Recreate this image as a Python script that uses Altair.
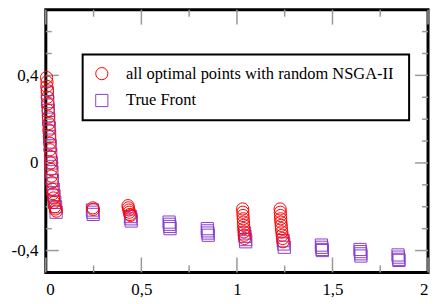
import altair as alt
import pandas as pd

S1 = "all optimal points with random  NSGA-II"
S2 = "True Front"

# red circles: all optimal points
red_x = [0.004, 0.006, 0.005, 0.008, 0.009, 0.011, 0.012, 0.014, 0.016, 0.017,
         0.019, 0.021, 0.022, 0.024, 0.026, 0.028, 0.030, 0.032, 0.034, 0.037,
         0.040, 0.043, 0.047, 0.051, 0.055,
         0.246, 0.248,
         0.430, 0.432, 0.435, 0.437, 0.440, 0.443,
         1.030, 1.031, 1.032, 1.033, 1.034, 1.035, 1.036, 1.037, 1.038, 1.040,
         1.226, 1.227, 1.228, 1.229, 1.230, 1.232, 1.233, 1.235, 1.237, 1.239, 1.241]
red_y = [0.39, 0.37, 0.35, 0.33, 0.30, 0.27, 0.24, 0.21, 0.18, 0.15,
         0.12, 0.09, 0.06, 0.03, 0.00, -0.03, -0.06, -0.09, -0.12, -0.14,
         -0.16, -0.18, -0.20, -0.21, -0.22,
         -0.205, -0.212,
         -0.195, -0.205, -0.215, -0.225, -0.235, -0.240,
         -0.210, -0.225, -0.240, -0.255, -0.270, -0.285, -0.300, -0.315, -0.330, -0.345,
         -0.210, -0.225, -0.240, -0.255, -0.270, -0.285, -0.300, -0.315, -0.330, -0.345, -0.360]

# purple squares: true front
pur_x = [0.008, 0.010, 0.013, 0.015, 0.018, 0.020, 0.023, 0.026, 0.029, 0.032,
         0.035, 0.039, 0.043, 0.047, 0.051, 0.054,
         0.244, 0.246, 0.248,
         0.443, 0.445, 0.447,
         0.645, 0.647, 0.649, 0.650,
         0.845, 0.846, 0.848, 0.850,
         1.040, 1.042, 1.045, 1.046,
         1.242, 1.245, 1.248,
         1.442, 1.444, 1.446, 1.447,
         1.644, 1.646, 1.648, 1.649,
         1.843, 1.845, 1.847, 1.848]
pur_y = [0.32, 0.28, 0.24, 0.20, 0.16, 0.12, 0.08, 0.04, 0.00, -0.04,
         -0.08, -0.12, -0.15, -0.18, -0.20, -0.225,
         -0.215, -0.225, -0.235,
         -0.245, -0.255, -0.265,
         -0.270, -0.280, -0.290, -0.300,
         -0.300, -0.310, -0.320, -0.330,
         -0.320, -0.335, -0.350, -0.360,
         -0.355, -0.370, -0.385,
         -0.375, -0.385, -0.395, -0.400,
         -0.395, -0.405, -0.415, -0.425,
         -0.420, -0.430, -0.440, -0.445]

x_major = [0, 0.5, 1, 1.5, 2]
x_minor = [0.25, 0.75, 1.25, 1.75]
y_major = [-0.4, 0, 0.4]
y_minor = [-0.3, -0.2, -0.1, 0.1, 0.2, 0.3, 0.5, 0.6]

W, H = 384, 264
FONT = "Liberation Serif"
RED = "#ff0000"
PURPLE = "#8a3fd0"
TICK = "#9a9a9a"

df = pd.DataFrame({
    "x": pur_x + red_x,
    "y": pur_y + red_y,
    "series": [S2] * len(pur_x) + [S1] * len(red_x),
})

xs = alt.Scale(domain=[0, 2], nice=False, zero=False)
ys = alt.Scale(domain=[-0.5, 0.7], nice=False, zero=False)
lbl = "replace(toString(datum.value), '.', ',')"

xaxis = alt.Axis(values=x_major, labelExpr=lbl, title=None, ticks=False, domain=False,
                 grid=False, labelPadding=9, labelFont=FONT, labelFontSize=17,
                 labelColor="black")
yaxis = alt.Axis(values=y_major, labelExpr=lbl, title=None, ticks=False, domain=False,
                 grid=False, labelPadding=8, labelFont=FONT, labelFontSize=17,
                 labelColor="black")

legend = alt.Legend(title=None, orient="none", legendX=37, legendY=45,
                    strokeColor="black", padding=11, labelFont=FONT,
                    labelFontSize=16.5, labelColor="black", symbolSize=150,
                    symbolStrokeWidth=1, rowPadding=10, labelOffset=16,
                    labelLimit=500)

points = alt.Chart(df).mark_point(filled=False, size=150, strokeWidth=1, opacity=1).encode(
    x=alt.X("x:Q", scale=xs, axis=xaxis),
    y=alt.Y("y:Q", scale=ys, axis=yaxis),
    color=alt.Color("series:N", scale=alt.Scale(domain=[S1, S2], range=[RED, PURPLE]), legend=legend),
    shape=alt.Shape("series:N", scale=alt.Scale(domain=[S1, S2], range=["circle", "square"]), legend=legend),
)


def xticks(vals, length):
    d = pd.DataFrame({"v": vals})
    base = alt.Chart(d).mark_rule(color=TICK, strokeWidth=1.5)
    enc = dict(x=alt.X("v:Q", scale=xs, axis=xaxis))
    b = base.encode(y=alt.value(H), y2=alt.value(H - length), **enc)
    t = base.encode(y=alt.value(0), y2=alt.value(length), **enc)
    return [b, t]


def yticks(vals, length):
    d = pd.DataFrame({"v": vals})
    base = alt.Chart(d).mark_rule(color=TICK, strokeWidth=1.5)
    enc = dict(y=alt.Y("v:Q", scale=ys, axis=yaxis))
    l = base.encode(x=alt.value(0), x2=alt.value(length), **enc)
    r = base.encode(x=alt.value(W), x2=alt.value(W - length), **enc)
    return [l, r]


layers = xticks(x_major, 15) + xticks(x_minor, 7) + yticks(y_major, 13) + yticks(y_minor, 6) + [points]

chart = alt.layer(*layers).properties(
    width=W, height=H,
    autosize=alt.AutoSizeParams(type="none"),
    padding={"left": 38, "top": 1, "right": 5, "bottom": 30},
    background="white",
).configure_view(stroke="black", strokeWidth=3).configure_legend(strokeWidth=2)

chart.save("out.html", embed_options={"renderer": "svg", "actions": False})
